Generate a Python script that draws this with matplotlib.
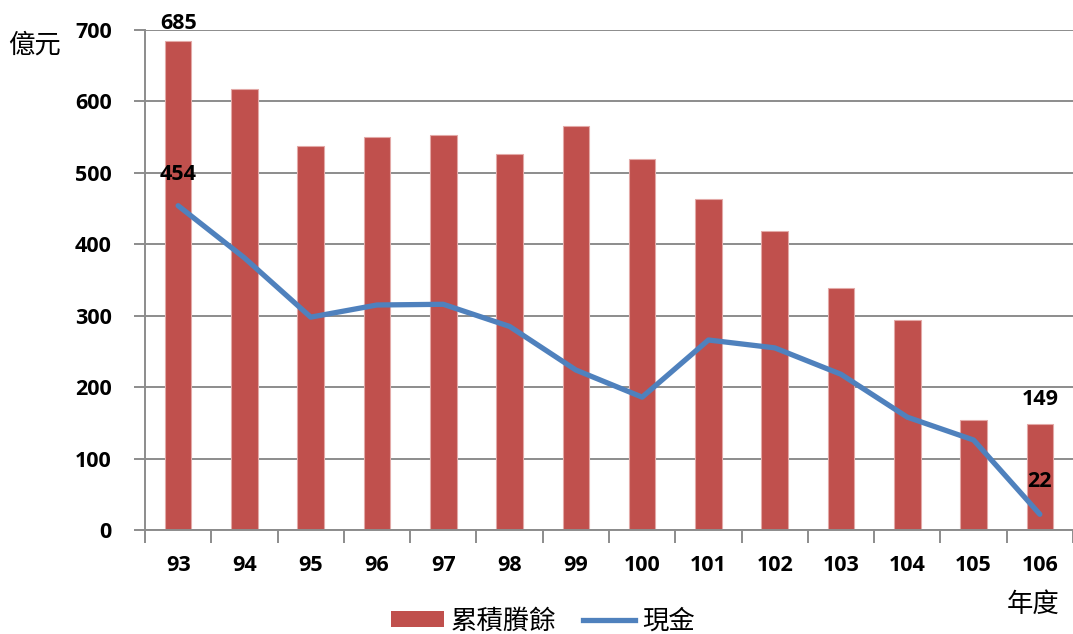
import matplotlib
matplotlib.use("Agg")
import matplotlib.pyplot as plt
from matplotlib.patches import Patch
from matplotlib.lines import Line2D
import numpy as np

years = ["93", "94", "95", "96", "97", "98", "99", "100", "101", "102", "103", "104", "105", "106"]
surplus = [685, 617, 538, 550, 553, 526, 565, 519, 463, 418, 339, 294, 154, 149]
cash = [454, 381, 298, 315, 316, 285, 224, 186, 266, 255, 218, 158, 126, 22]
y_ticks = [0, 100, 200, 300, 400, 500, 600, 700]

BAR_COLOR = "#C0504D"
LINE_COLOR = "#4F81BD"
GRID_COLOR = "#8C8C8C"
NUM_FONT = ["Open Sans", "DejaVu Sans"]
CJK_FONT = ["Noto Sans CJK TC", "DejaVu Sans"]
NUM_SIZE = 15.5

fig = plt.figure(figsize=(10.73, 6.34), dpi=100)
ax = fig.add_axes([145 / 1073, 104 / 634, 928 / 1073, 500 / 634])

x = np.arange(len(years))
ax.bar(x, surplus, width=0.4, color=BAR_COLOR, edgecolor="#E3A9A7", linewidth=0.8, zorder=2)
ax.plot(x, cash, color=LINE_COLOR, linewidth=3.8, solid_joinstyle="round",
        solid_capstyle="round", zorder=3)

ax.set_xlim(-0.5, len(years) - 0.5)
ax.set_ylim(0, 700)
ax.set_yticks(y_ticks)
ax.set_yticklabels([str(v) for v in y_ticks], fontsize=NUM_SIZE, fontweight="bold", family=NUM_FONT)
ax.yaxis.grid(True, color=GRID_COLOR, linewidth=1.4, zorder=0)
ax.set_axisbelow(True)

# category ticks sit between the columns, labels in the middle
ax.set_xticks(np.arange(-0.5, len(years) - 0.5 + 1e-9, 1.0))
ax.set_xticklabels([])
ax.set_xticks(x, minor=True)
ax.set_xticklabels(years, minor=True, fontsize=NUM_SIZE, fontweight="bold", family=NUM_FONT)
ax.tick_params(axis="x", which="major", length=9, width=1.4, color=GRID_COLOR, direction="out")
ax.tick_params(axis="x", which="minor", length=0, pad=18)
ax.tick_params(axis="y", length=8, width=1.4, color=GRID_COLOR, pad=16)

for side in ("top", "right"):
    ax.spines[side].set_visible(False)
for side in ("left", "bottom"):
    ax.spines[side].set_color(GRID_COLOR)
    ax.spines[side].set_linewidth(1.4)

# value labels
def value_label(xv, yv, dy):
    ax.annotate(str(yv), (xv, yv), xytext=(0, dy), textcoords="offset points",
                ha="center", va="bottom", fontsize=NUM_SIZE, fontweight="bold", family=NUM_FONT)

value_label(x[0], surplus[0], 5)
value_label(x[0], cash[0], 15)
value_label(x[-1], surplus[-1], 10)
value_label(x[-1], cash[-1], 16)

fig.text(8 / 1073, 1 - 45 / 634, "億元", fontsize=19, family=CJK_FONT, ha="left", va="center")
fig.text(1060 / 1073, 1 - 604 / 634, "年度", fontsize=19, family=CJK_FONT, ha="right", va="center")

handles = [Patch(facecolor=BAR_COLOR, edgecolor="none"),
           Line2D([0], [0], color=LINE_COLOR, linewidth=3.8)]
fig.legend(handles, ["累積賸餘", "現金"], loc="center", bbox_to_anchor=(543 / 1073, 1 - 621 / 634),
           ncol=2, frameon=False, prop={"family": CJK_FONT, "size": 19},
           handlelength=2.0, handleheight=0.55, handletextpad=0.25, columnspacing=1.0,
           borderpad=0.0)

fig.savefig("out.png", dpi=100)
